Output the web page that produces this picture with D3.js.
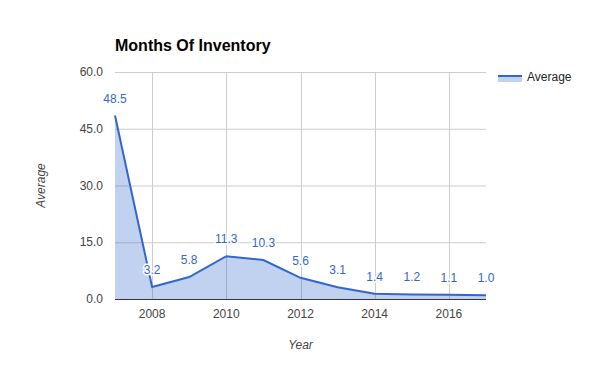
<!DOCTYPE html>
<html><head><meta charset="utf-8">
<script src="https://cdn.jsdelivr.net/npm/d3@7"></script>
<style>body{margin:0;background:#fff}svg{display:block;font-family:Arial,"Liberation Sans",sans-serif}</style>
</head><body><svg id="c" width="600" height="371"></svg>
<script>
const years = [2007,2008,2009,2010,2011,2012,2013,2014,2015,2016,2017];
const averages = [48.5,3.2,5.8,11.3,10.3,5.6,3.1,1.4,1.2,1.1,1.0];
const yTicks = [0,15,30,45,60];
const xTicks = [2008,2010,2012,2014,2016];
const title = "Months Of Inventory";
const seriesName = "Average";
const xTitle = "Year", yTitle = "Average";

const svg = d3.select("#c");
const L=115,R=486,T=72,B=299;
const x = d3.scaleLinear().domain([2007,2017]).range([L,R]);
const y = d3.scaleLinear().domain([0,60]).range([B,T]);
const blue="#3366cc";

svg.append("g").selectAll("line").data(yTicks).join("line")
 .attr("x1",L).attr("x2",R).attr("y1",d=>y(d)+.5).attr("y2",d=>y(d)+.5)
 .attr("stroke","#cccccc");
svg.append("g").selectAll("line").data(xTicks).join("line")
 .attr("x1",d=>Math.round(x(d))+.5).attr("x2",d=>Math.round(x(d))+.5).attr("y1",T).attr("y2",B)
 .attr("stroke","#cccccc");

const pts = years.map((d,i)=>[d,averages[i]]);
svg.append("path").datum(pts)
 .attr("d",d3.area().x(d=>x(d[0])).y0(y(0)).y1(d=>y(d[1])))
 .attr("fill",blue).attr("fill-opacity",0.3);
svg.append("line").attr("x1",L).attr("x2",R).attr("y1",B+.5).attr("y2",B+.5).attr("stroke","#333");
svg.append("path").datum(pts)
 .attr("d",d3.line().x(d=>x(d[0])).y(d=>y(d[1])))
 .attr("fill","none").attr("stroke",blue).attr("stroke-width",2);

svg.append("g").selectAll("text").data(pts).join("text")
 .attr("x",d=>x(d[0])).attr("y",d=>y(d[1])-13)
 .attr("text-anchor","middle").attr("font-size",12).attr("fill",blue)
 .attr("stroke","#fff").attr("stroke-width",3).attr("paint-order","stroke")
 .text(d=>d[1].toFixed(1));

svg.append("g").selectAll("text").data(yTicks).join("text")
 .attr("x",103).attr("y",d=>y(d)+4).attr("text-anchor","end")
 .attr("font-size",12).attr("fill","#444").text(d=>d.toFixed(1));
svg.append("g").selectAll("text").data(xTicks).join("text")
 .attr("x",d=>x(d)).attr("y",318).attr("text-anchor","middle")
 .attr("font-size",12).attr("fill","#444").text(d=>d);

svg.append("text").attr("x",115).attr("y",51).attr("font-size",16).attr("font-weight","bold")
 .attr("fill","#000").text(title);
svg.append("text").attr("x",(L+R)/2).attr("y",349).attr("text-anchor","middle")
 .attr("font-size",12).attr("font-style","italic").attr("fill","#444").text(xTitle);
svg.append("text").attr("transform",`translate(45,${(T+B)/2}) rotate(-90)`).attr("text-anchor","middle")
 .attr("font-size",12).attr("font-style","italic").attr("fill","#444").text(yTitle);

const lg = svg.append("g");
lg.append("rect").attr("x",498).attr("y",76).attr("width",24).attr("height",6).attr("fill",blue).attr("fill-opacity",0.3);
lg.append("line").attr("x1",498).attr("x2",522).attr("y1",76).attr("y2",76).attr("stroke",blue).attr("stroke-width",2);
lg.append("text").attr("x",527).attr("y",81).attr("font-size",12).attr("fill","#222").text(seriesName);
</script></body></html>
